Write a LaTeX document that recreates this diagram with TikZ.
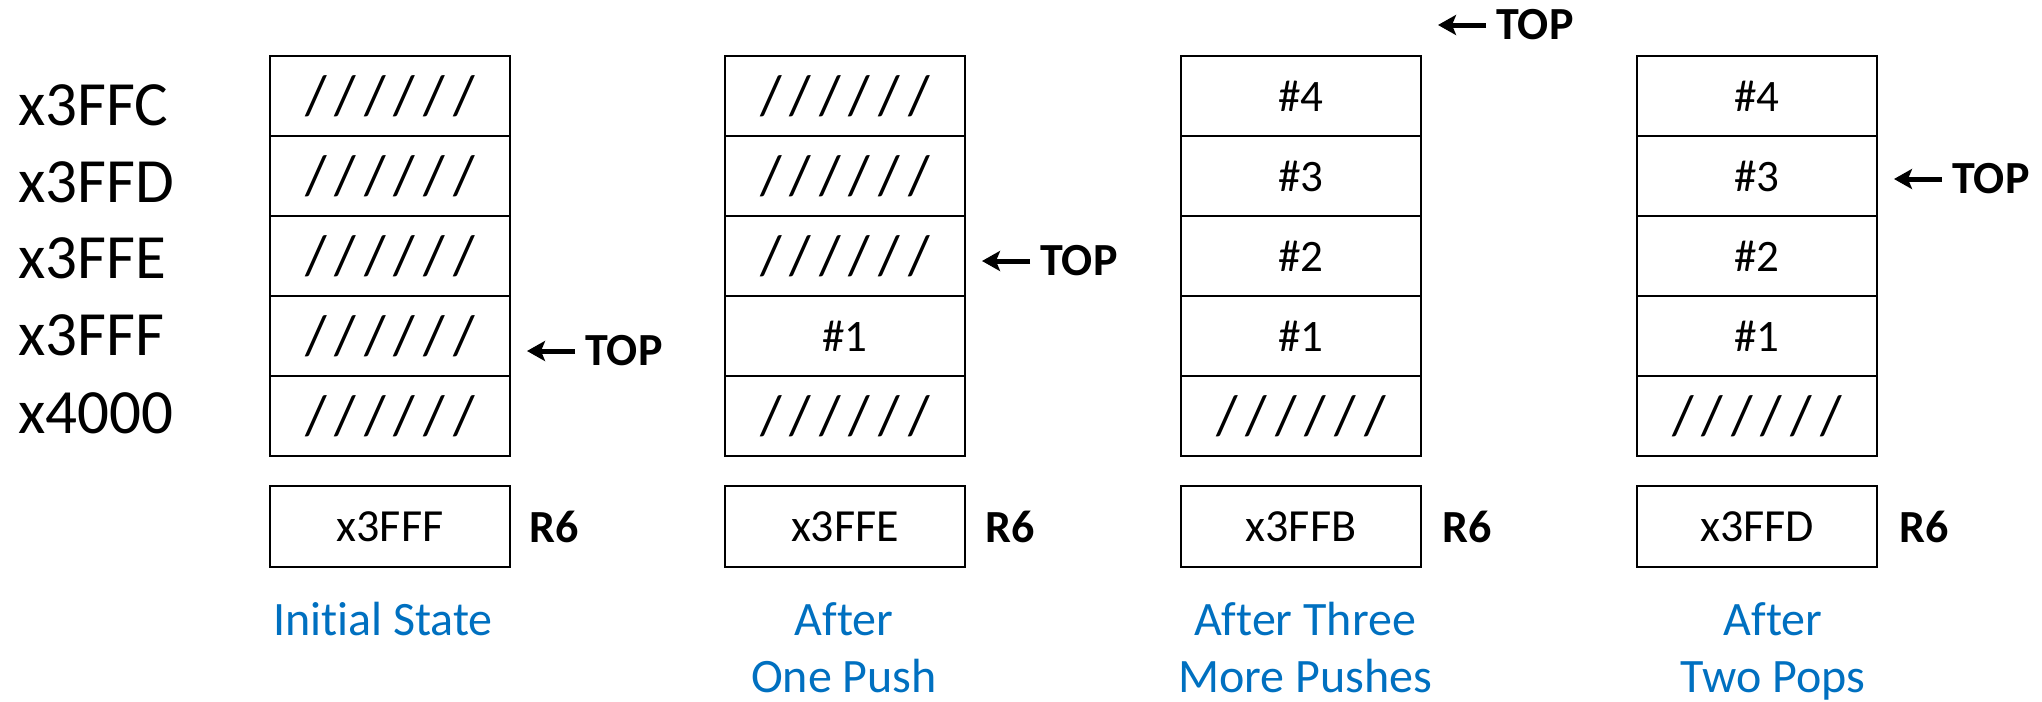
\documentclass[tikz,border=0pt]{standalone}
\usepackage{fontspec}
\setmainfont{Carlito}[Ligatures={NoCommon}]
\usetikzlibrary{arrows.meta}
\definecolor{capblue}{HTML}{0070C0}
\tikzset{
  cell/.style={draw=black, line width=1.1pt, minimum width=120pt, minimum height=40pt,
    inner sep=0pt, font=\fontsize{22.5}{27}\selectfont},
  empty/.style={cell, font=\fontsize{28}{32}\selectfont},
  regbox/.style={cell, minimum height=40.5pt, font=\fontsize{23}{28}\selectfont},
  addr/.style={anchor=base west, inner sep=0pt, font=\fontsize{31.5}{38}\selectfont},
  reglbl/.style={anchor=base, inner sep=0pt, font=\bfseries\fontsize{23}{28}\selectfont},
  toplbl/.style={anchor=west, inner xsep=5pt, inner ysep=0pt, font=\bfseries\fontsize{23}{28}\selectfont},
  ptr/.style={line width=2.5pt, -{Stealth[length=9pt,width=10pt,inset=2pt]}},
  % base anchor of a two-line caption sits on its last line
  caption/.style={anchor=base, align=center, inner sep=0pt, text=capblue,
    font=\fontsize{24}{28.5}\selectfont},
}
% row of slashes marking an unused slot
\newcommand{\hatch}{/\hspace{4pt}/\hspace{4pt}/\hspace{4pt}/\hspace{4pt}/\hspace{4pt}/}
\begin{document}
\begin{tikzpicture}[x=0.5pt, y=-0.5pt]
\useasboundingbox (0,0) rectangle (2042,702);

% memory addresses
\node[addr] (a1) at (18,125) {x3FFC};
\node[addr] (a2) at (18,202) {x3FFD};
\node[addr] (a3) at (18,278) {x3FFE};
\node[addr] (a4) at (18,355) {x3FFF};
\node[addr] (a5) at (18,433) {x4000};

% initial state
\node[empty] (s1r1) at (390,96)  {\hatch};
\node[empty] (s1r2) at (390,176) {\hatch};
\node[empty] (s1r3) at (390,256) {\hatch};
\node[empty] (s1r4) at (390,336) {\hatch};
\node[empty] (s1r5) at (390,416) {\hatch};
\node[regbox] (s1reg) at (390,526.5) {x3FFF};
\node[reglbl] (s1r6) at (554,542) {R6};
\node[toplbl] (s1top) at (575,351) {TOP};
\coordinate (s1tip) at (527,351);
\draw[ptr] (s1top.west) -- (s1tip);
\node[caption] (s1cap) at (383,635) {Initial State};

% after one push
\node[empty] (s2r1) at (845,96)  {\hatch};
\node[empty] (s2r2) at (845,176) {\hatch};
\node[empty] (s2r3) at (845,256) {\hatch};
\node[cell]  (s2r4) at (845,336) {\#1};
\node[empty] (s2r5) at (845,416) {\hatch};
\node[regbox] (s2reg) at (845,526.5) {x3FFE};
\node[reglbl] (s2r6) at (1010,542) {R6};
\node[toplbl] (s2top) at (1030,261) {TOP};
\coordinate (s2tip) at (982,261);
\draw[ptr] (s2top.west) -- (s2tip);
\node[caption] (s2cap) at (844,692) {After\\One Push};

% after three more pushes
\node[cell]  (s3r1) at (1301,96)  {\#4};
\node[cell]  (s3r2) at (1301,176) {\#3};
\node[cell]  (s3r3) at (1301,256) {\#2};
\node[cell]  (s3r4) at (1301,336) {\#1};
\node[empty] (s3r5) at (1301,416) {\hatch};
\node[regbox] (s3reg) at (1301,526.5) {x3FFB};
\node[reglbl] (s3r6) at (1467,542) {R6};
\node[toplbl] (s3top) at (1486,25) {TOP};
\coordinate (s3tip) at (1438,25);
\draw[ptr] (s3top.west) -- (s3tip);
\node[caption] (s3cap) at (1305,692) {After Three\\More Pushes};

% after two pops
\node[cell]  (s4r1) at (1757,96)  {\#4};
\node[cell]  (s4r2) at (1757,176) {\#3};
\node[cell]  (s4r3) at (1757,256) {\#2};
\node[cell]  (s4r4) at (1757,336) {\#1};
\node[empty] (s4r5) at (1757,416) {\hatch};
\node[regbox] (s4reg) at (1757,526.5) {x3FFD};
\node[reglbl] (s4r6) at (1924,542) {R6};
\node[toplbl] (s4top) at (1942,179) {TOP};
\coordinate (s4tip) at (1894,179);
\draw[ptr] (s4top.west) -- (s4tip);
\node[caption] (s4cap) at (1773,692) {After\\Two Pops};
\end{tikzpicture}
\end{document}
